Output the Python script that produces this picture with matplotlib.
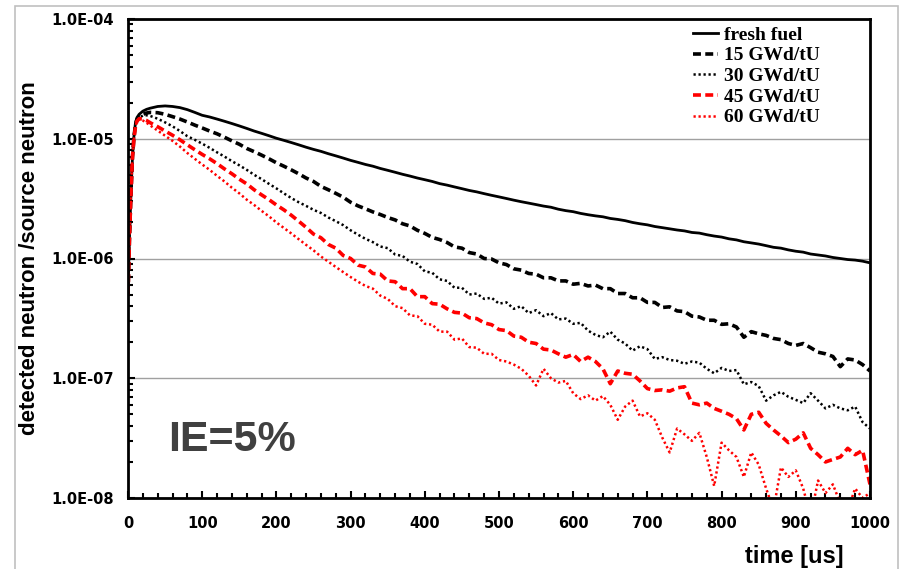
import matplotlib
matplotlib.use('Agg')
import numpy as np
import matplotlib.pyplot as plt
from matplotlib.patches import Rectangle
from matplotlib.ticker import LogLocator, MultipleLocator, NullFormatter

# time grid [us]
time_us = [0, 2, 4, 6, 8, 10, 12, 15, 20, 25,
           30, 40, 50, 60, 70, 80, 90, 100, 110, 120,
           130, 140, 150, 160, 170, 180, 190, 200, 210, 220,
           230, 240, 250, 260, 270, 280, 290, 300, 310, 320,
           330, 340, 350, 360, 370, 380, 390, 400, 410, 420,
           430, 440, 450, 460, 470, 480, 490, 500, 510, 520,
           530, 540, 550, 560, 570, 580, 590, 600, 610, 620,
           630, 640, 650, 660, 670, 680, 690, 700, 710, 720,
           730, 740, 750, 760, 770, 780, 790, 800, 810, 820,
           830, 840, 850, 860, 870, 880, 890, 900, 910, 920,
           930, 940, 950, 960, 970, 980, 990, 1000]

fresh_fuel = [5.0e-7, 1.5e-6, 3.5e-6, 7.0e-6, 1.05e-5, 1.35e-5, 1.5e-5, 1.6e-5, 1.7e-5, 1.76e-5,
              1.8e-5, 1.86e-5, 1.88e-5, 1.86e-5, 1.82e-5, 1.75e-5, 1.66e-5, 1.57e-5, 1.52e-5, 1.46e-5,
              1.40e-5, 1.34e-5, 1.28e-5, 1.22e-5, 1.16e-5, 1.11e-5, 1.06e-5, 1.01e-5, 9.7e-6, 9.3e-6,
              8.9e-6, 8.5e-6, 8.15e-6, 7.85e-6, 7.5e-6, 7.2e-6, 6.9e-6, 6.6e-6, 6.35e-6, 6.1e-6,
              5.9e-6, 5.65e-6, 5.45e-6, 5.25e-6, 5.05e-6, 4.88e-6, 4.7e-6, 4.55e-6, 4.4e-6, 4.22e-6,
              4.1e-6, 3.96e-6, 3.83e-6, 3.7e-6, 3.6e-6, 3.48e-6, 3.37e-6, 3.27e-6, 3.17e-6, 3.07e-6,
              2.98e-6, 2.9e-6, 2.82e-6, 2.74e-6, 2.68e-6, 2.58e-6, 2.51e-6, 2.46e-6, 2.38e-6, 2.32e-6,
              2.27e-6, 2.23e-6, 2.16e-6, 2.12e-6, 2.07e-6, 2.0e-6, 1.95e-6, 1.91e-6, 1.85e-6, 1.81e-6,
              1.77e-6, 1.73e-6, 1.70e-6, 1.65e-6, 1.63e-6, 1.58e-6, 1.54e-6, 1.51e-6, 1.46e-6, 1.43e-6,
              1.38e-6, 1.35e-6, 1.32e-6, 1.28e-6, 1.24e-6, 1.22e-6, 1.18e-6, 1.15e-6, 1.13e-6, 1.09e-6,
              1.07e-6, 1.05e-6, 1.02e-6, 1.0e-6, 9.8e-7, 9.7e-7, 9.5e-7, 9.2e-7]

gwd15 = [5.0e-7, 1.5e-6, 3.5e-6, 7.0e-6, 1.03e-5, 1.3e-5, 1.45e-5, 1.53e-5, 1.6e-5, 1.64e-5,
         1.66e-5, 1.65e-5, 1.6e-5, 1.53e-5, 1.46e-5, 1.38e-5, 1.3e-5, 1.23e-5, 1.16e-5, 1.1e-5,
         1.03e-5, 9.6e-6, 9.0e-6, 8.3e-6, 7.8e-6, 7.3e-6, 6.8e-6, 6.3e-6, 5.9e-6, 5.5e-6,
         5.1e-6, 4.7e-6, 4.4e-6, 4.0e-6, 3.75e-6, 3.5e-6, 3.25e-6, 2.95e-6, 2.75e-6, 2.6e-6,
         2.45e-6, 2.33e-6, 2.2e-6, 2.1e-6, 1.95e-6, 1.87e-6, 1.72e-6, 1.62e-6, 1.5e-6, 1.44e-6,
         1.36e-6, 1.25e-6, 1.22e-6, 1.12e-6, 1.09e-6, 1.0e-6, 9.9e-7, 9.2e-7, 8.9e-7, 8.2e-7,
         8.0e-7, 7.5e-7, 7.4e-7, 6.9e-7, 6.9e-7, 6.5e-7, 6.5e-7, 6.1e-7, 6.2e-7, 5.9e-7,
         6.0e-7, 5.6e-7, 5.6e-7, 5.1e-7, 5.1e-7, 4.7e-7, 4.7e-7, 4.3e-7, 4.3e-7, 3.9e-7,
         3.95e-7, 3.65e-7, 3.6e-7, 3.3e-7, 3.25e-7, 3.05e-7, 3.05e-7, 2.82e-7, 2.85e-7, 2.68e-7,
         2.2e-7, 2.45e-7, 2.35e-7, 2.28e-7, 2.15e-7, 2.1e-7, 1.95e-7, 1.88e-7, 1.95e-7, 1.8e-7,
         1.65e-7, 1.6e-7, 1.52e-7, 1.25e-7, 1.45e-7, 1.42e-7, 1.3e-7, 1.15e-7]

gwd30 = [5.0e-7, 1.5e-6, 3.5e-6, 7.0e-6, 1.02e-5, 1.28e-5, 1.42e-5, 1.5e-5, 1.56e-5, 1.57e-5,
         1.55e-5, 1.47e-5, 1.37e-5, 1.27e-5, 1.16e-5, 1.05e-5, 9.8e-6, 9.1e-6, 8.4e-6, 7.7e-6,
         7.1e-6, 6.5e-6, 6.0e-6, 5.5e-6, 5.0e-6, 4.6e-6, 4.2e-6, 3.85e-6, 3.5e-6, 3.2e-6,
         2.95e-6, 2.75e-6, 2.55e-6, 2.4e-6, 2.2e-6, 2.05e-6, 1.9e-6, 1.72e-6, 1.58e-6, 1.46e-6,
         1.37e-6, 1.26e-6, 1.22e-6, 1.08e-6, 1.05e-6, 9.4e-7, 9.0e-7, 7.8e-7, 7.6e-7, 6.7e-7,
         6.5e-7, 5.7e-7, 5.7e-7, 5.0e-7, 5.1e-7, 4.6e-7, 4.7e-7, 4.2e-7, 4.3e-7, 3.8e-7,
         4.0e-7, 3.5e-7, 3.7e-7, 3.3e-7, 3.5e-7, 3.1e-7, 3.15e-7, 2.85e-7, 2.9e-7, 2.5e-7,
         2.3e-7, 2.2e-7, 2.45e-7, 2.1e-7, 1.95e-7, 1.7e-7, 1.85e-7, 1.75e-7, 1.45e-7, 1.5e-7,
         1.42e-7, 1.4e-7, 1.32e-7, 1.38e-7, 1.35e-7, 1.2e-7, 1.1e-7, 1.22e-7, 1.15e-7, 1.17e-7,
         8.9e-8, 9.3e-8, 8.6e-8, 6.5e-8, 7.2e-8, 7.7e-8, 7.0e-8, 6.6e-8, 6.2e-8, 7.5e-8,
         6.5e-8, 5.6e-8, 6.0e-8, 5.6e-8, 5.4e-8, 5.8e-8, 4.3e-8, 3.8e-8]

gwd45 = [5.0e-7, 1.5e-6, 3.5e-6, 7.0e-6, 1.0e-5, 1.25e-5, 1.4e-5, 1.47e-5, 1.46e-5, 1.42e-5,
         1.36e-5, 1.26e-5, 1.16e-5, 1.07e-5, 9.8e-6, 8.9e-6, 8.1e-6, 7.4e-6, 6.8e-6, 6.2e-6,
         5.6e-6, 5.1e-6, 4.6e-6, 4.2e-6, 3.75e-6, 3.4e-6, 3.1e-6, 2.8e-6, 2.55e-6, 2.3e-6,
         2.05e-6, 1.82e-6, 1.6e-6, 1.49e-6, 1.31e-6, 1.22e-6, 1.06e-6, 1.0e-6, 8.8e-7, 8.5e-7,
         7.5e-7, 7.4e-7, 6.5e-7, 6.4e-7, 5.6e-7, 5.6e-7, 4.8e-7, 4.8e-7, 4.2e-7, 4.15e-7,
         3.8e-7, 3.55e-7, 3.5e-7, 3.2e-7, 3.15e-7, 2.9e-7, 2.8e-7, 2.55e-7, 2.5e-7, 2.25e-7,
         2.2e-7, 2.0e-7, 1.95e-7, 1.75e-7, 1.72e-7, 1.6e-7, 1.5e-7, 1.58e-7, 1.38e-7, 1.5e-7,
         1.38e-7, 1.2e-7, 9.0e-8, 1.15e-7, 1.1e-7, 1.08e-7, 9.5e-8, 8.2e-8, 7.9e-8, 8.0e-8,
         7.8e-8, 8.3e-8, 8.5e-8, 6.2e-8, 6.0e-8, 6.2e-8, 5.6e-8, 5.3e-8, 5.0e-8, 4.6e-8,
         3.7e-8, 5.0e-8, 5.2e-8, 4.2e-8, 3.7e-8, 3.3e-8, 2.9e-8, 3.1e-8, 3.5e-8, 2.6e-8,
         2.3e-8, 2.0e-8, 2.1e-8, 2.2e-8, 2.6e-8, 2.3e-8, 2.5e-8, 1.3e-8]

gwd60 = [5.0e-7, 1.5e-6, 3.5e-6, 7.0e-6, 1.0e-5, 1.25e-5, 1.4e-5, 1.45e-5, 1.42e-5, 1.36e-5,
         1.29e-5, 1.17e-5, 1.06e-5, 9.6e-6, 8.6e-6, 7.6e-6, 6.8e-6, 6.1e-6, 5.5e-6, 4.9e-6,
         4.4e-6, 3.9e-6, 3.5e-6, 3.1e-6, 2.8e-6, 2.5e-6, 2.25e-6, 2.0e-6, 1.8e-6, 1.62e-6,
         1.45e-6, 1.3e-6, 1.17e-6, 1.04e-6, 9.4e-7, 8.5e-7, 7.7e-7, 7.0e-7, 6.4e-7, 5.9e-7,
         5.6e-7, 4.9e-7, 4.6e-7, 4.0e-7, 3.85e-7, 3.35e-7, 3.3e-7, 2.85e-7, 2.8e-7, 2.45e-7,
         2.45e-7, 2.1e-7, 2.15e-7, 1.82e-7, 1.8e-7, 1.6e-7, 1.6e-7, 1.42e-7, 1.38e-7, 1.3e-7,
         1.2e-7, 1.05e-7, 8.7e-8, 1.2e-7, 1.0e-7, 9.2e-8, 9.5e-8, 7.5e-8, 6.7e-8, 7.2e-8,
         6.5e-8, 7.1e-8, 6.0e-8, 4.5e-8, 5.8e-8, 6.5e-8, 4.8e-8, 5.1e-8, 4.5e-8, 3.2e-8,
         2.4e-8, 3.8e-8, 3.4e-8, 3.0e-8, 3.5e-8, 2.2e-8, 1.26e-8, 2.9e-8, 2.5e-8, 2.2e-8,
         1.5e-8, 2.4e-8, 1.9e-8, 1.2e-8, 8.0e-9, 1.8e-8, 1.5e-8, 1.7e-8, 1.2e-8, 7.0e-9,
         1.4e-8, 1.1e-8, 1.3e-8, 9.0e-9, 8.0e-9, 1.2e-8, 1.0e-8, 1.1e-8]

labels = ['fresh fuel', '15 GWd/tU', '30 GWd/tU', '45 GWd/tU', '60 GWd/tU']
y_ticks = [1e-8, 1e-7, 1e-6, 1e-5, 1e-4]
y_tick_labels = ['1.0E-08', '1.0E-07', '1.0E-06', '1.0E-05', '1.0E-04']
x_ticks = [0, 100, 200, 300, 400, 500, 600, 700, 800, 900, 1000]

fig = plt.figure(figsize=(9.03, 5.69), dpi=100)
ax = fig.add_axes([128 / 903, 71 / 569, 742 / 903, 479 / 569])

# light grey frame around the whole picture
fig.patches.append(Rectangle((15 / 903, -0.05), 883 / 903, 1.05 - 6 / 569,
                             transform=fig.transFigure, fill=False,
                             edgecolor='#c0c0c0', linewidth=1.2))

series = [fresh_fuel, gwd15, gwd30, gwd45, gwd60]
styles = [
    dict(color='black', linestyle='-', linewidth=2.0),
    dict(color='black', linestyle=(0, (2.2, 1.2)), linewidth=2.6),
    dict(color='black', linestyle=(0, (0.9, 1.1)), linewidth=1.8),
    dict(color='#ff0000', linestyle=(0, (2.2, 1.2)), linewidth=2.6),
    dict(color='#ff0000', linestyle=(0, (0.9, 1.1)), linewidth=1.8),
]
handles = []
for data, st, lab in zip(series, styles, labels):
    h, = ax.plot(time_us, data, label=lab, **st)
    handles.append(h)

ax.set_yscale('log')
ax.set_xlim(0, 1000)
ax.set_ylim(1e-8, 1e-4)

ax.yaxis.grid(True, which='major', color='#a0a0a0', linewidth=1.0)
ax.set_axisbelow(True)

ax.set_yticks(y_ticks)
ax.set_yticklabels(y_tick_labels)
ax.yaxis.set_minor_locator(LogLocator(base=10, subs=np.arange(2, 10)))
ax.yaxis.set_minor_formatter(NullFormatter())
ax.set_xticks(x_ticks)
ax.xaxis.set_minor_locator(MultipleLocator(20))

ax.tick_params(axis='both', which='major', direction='in', length=5, width=1.5,
               labelsize=10.5)
ax.tick_params(axis='both', which='minor', direction='in', length=3.5, width=1.5)
ax.tick_params(axis='x', which='major', pad=13)
ax.tick_params(axis='y', which='major', pad=10)
for lbl in ax.get_xticklabels() + ax.get_yticklabels():
    lbl.set_fontweight('bold')
    lbl.set_family('DejaVu Sans')

for sp in ax.spines.values():
    sp.set_linewidth(2.0)
    sp.set_color('black')

fig.text(30 / 903, 1 - 258 / 569, 'detected neutron /source neutron', rotation=90,
         ha='center', va='center', fontsize=16, fontweight='bold',
         family='Liberation Sans')
fig.text(794 / 903, 1 - 556 / 569, 'time [us]', ha='center', va='center',
         fontsize=17, fontweight='bold', family='Liberation Sans')
fig.text(168 / 903, 1 - 440 / 569, 'IE=5%', ha='left', va='center',
         fontsize=31, fontweight='bold', family='Liberation Sans', color='#404040')

ax.legend(handles=handles, loc='upper left', bbox_to_anchor=(693 / 903, 1 - 26 / 569),
          bbox_transform=fig.transFigure, frameon=False,
          prop={'family': 'Liberation Serif', 'weight': 'bold', 'size': 14},
          handlelength=1.3, handletextpad=0.3, labelspacing=0.16,
          borderpad=0, borderaxespad=0)

fig.savefig('out.png', dpi=100)
